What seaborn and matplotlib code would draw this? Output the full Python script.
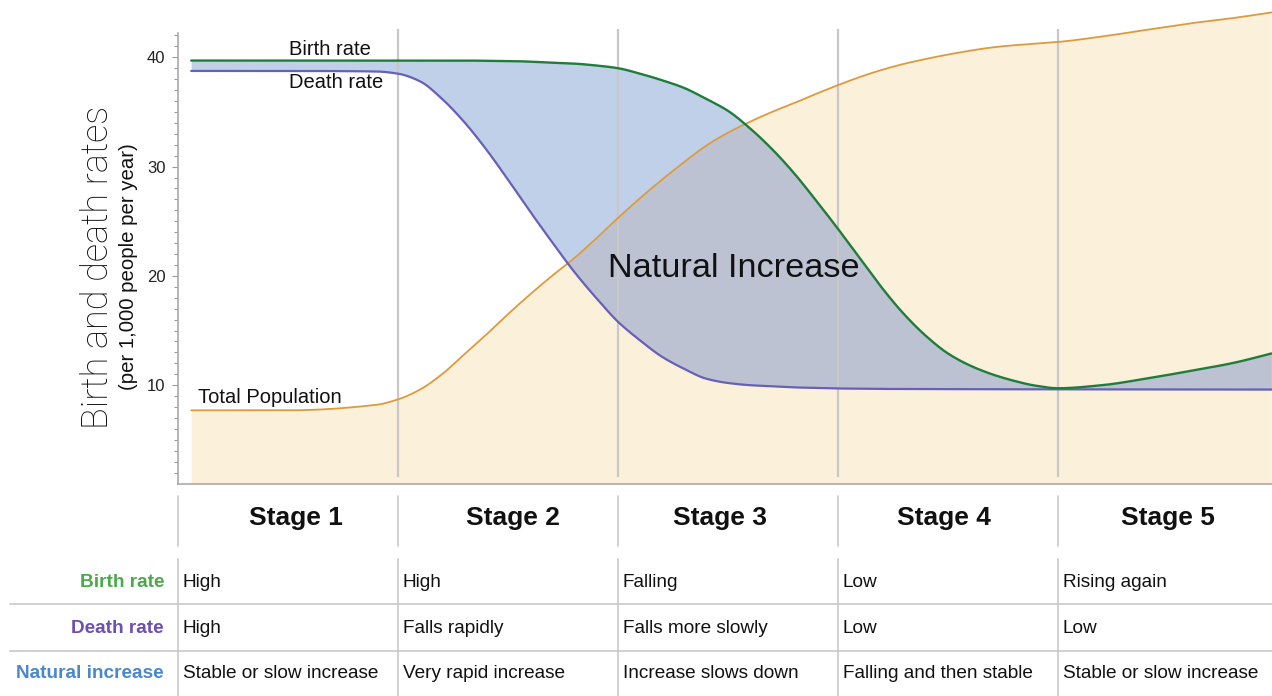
import numpy as np
import matplotlib
matplotlib.use("Agg")
import matplotlib.pyplot as plt
import seaborn as sns
import pandas as pd
from matplotlib.ticker import FixedLocator

# ---------------- data ----------------
stage_pos = [0.06, 0.5, 0.9, 1.0, 1.1, 1.2, 1.3, 1.4, 1.5, 1.6, 1.7, 1.8, 1.9,
             2.0, 2.1, 2.2, 2.3, 2.4, 2.5, 2.6, 2.7, 2.8, 2.9, 3.0, 3.1, 3.2,
             3.3, 3.4, 3.5, 3.6, 3.7, 3.8, 3.9, 4.0, 4.2, 4.4, 4.6, 4.8, 4.97]
birth_rate = [39.7, 39.7, 39.7, 39.7, 39.7, 39.7, 39.7, 39.68, 39.66, 39.6, 39.5, 39.42, 39.25,
              39.0, 38.5, 37.9, 37.2, 36.2, 35.1, 33.5, 31.6, 29.4, 26.9, 24.3, 21.6, 18.9,
              16.5, 14.5, 12.9, 11.8, 11.0, 10.4, 9.95, 9.72, 10.0, 10.6, 11.3, 12.05, 12.9]
death_rate = [38.75, 38.75, 38.7, 38.5, 37.8, 36.2, 34.1, 31.6, 28.8, 25.9, 23.1, 20.4, 18.0,
              15.8, 14.1, 12.6, 11.5, 10.6, 10.2, 10.0, 9.9, 9.8, 9.75, 9.7, 9.68, 9.66,
              9.65, 9.65, 9.64, 9.63, 9.63, 9.62, 9.62, 9.62, 9.61, 9.61, 9.6, 9.6, 9.6]
population = [7.7, 7.7, 8.2, 8.7, 9.6, 11.0, 12.8, 14.6, 16.5, 18.3, 20.0, 21.6, 23.4,
              25.3, 27.1, 28.8, 30.4, 31.9, 33.1, 34.1, 35.0, 35.8, 36.65, 37.45, 38.2, 38.85,
              39.4, 39.85, 40.25, 40.6, 40.9, 41.1, 41.25, 41.4, 41.9, 42.5, 43.1, 43.6, 44.1]

y_ticks = [10, 20, 30, 40]
stage_bounds = [1, 2, 3, 4]
stages = ["Stage 1", "Stage 2", "Stage 3", "Stage 4", "Stage 5"]
row_labels = ["Birth rate", "Death rate", "Natural increase"]
birth_desc = ["High", "High", "Falling", "Low", "Rising again"]
death_desc = ["High", "Falls rapidly", "Falls more slowly", "Low", "Low"]
increase_desc = ["Stable or slow increase", "Very rapid increase", "Increase slows down",
                 "Falling and then stable", "Stable or slow increase"]


def smooth_curve(xs, ys, n=1500):
    """Monotone cubic (Fritsch-Carlson) rendering of a curve through the points."""
    xs = np.asarray(xs, float)
    ys = np.asarray(ys, float)
    h = np.diff(xs)
    delta = np.diff(ys) / h
    m = np.zeros_like(ys)
    m[0], m[-1] = delta[0], delta[-1]
    for i in range(1, len(xs) - 1):
        if delta[i - 1] * delta[i] > 0:
            w1 = 2 * h[i] + h[i - 1]
            w2 = h[i] + 2 * h[i - 1]
            m[i] = (w1 + w2) / (w1 / delta[i - 1] + w2 / delta[i])
        else:
            m[i] = 0.0
    xn = np.linspace(xs[0], xs[-1], n)
    idx = np.clip(np.searchsorted(xs, xn) - 1, 0, len(xs) - 2)
    t = (xn - xs[idx]) / h[idx]
    h00 = 2 * t**3 - 3 * t**2 + 1
    h10 = t**3 - 2 * t**2 + t
    h01 = -2 * t**3 + 3 * t**2
    h11 = t**3 - t**2
    yn = h00 * ys[idx] + h10 * h[idx] * m[idx] + h01 * ys[idx + 1] + h11 * h[idx] * m[idx + 1]
    return xn, yn


xd, bd = smooth_curve(stage_pos, birth_rate)
_, dd = smooth_curve(stage_pos, death_rate)
_, pd_ = smooth_curve(stage_pos, population)
curves = pd.DataFrame({"stage": xd, "birth": bd, "death": dd, "population": pd_})

# ---------------- style ----------------
sns.set_theme(style="white")
plt.rcParams['font.family'] = ['Liberation Sans', 'DejaVu Sans']

C_GREEN = "#1f7d3c"
C_PURPLE = "#6660b8"
C_ORANGE = "#dd9a3c"
F_ORANGE = "#fbf0da"
F_BLUE = "#c0d0e8"
F_OVER = "#bcc2d2"
C_GRID = "#c8c8c8"

W, H = 1272, 696
fig = plt.figure(figsize=(W / 100, H / 100), dpi=100)
fig.patch.set_facecolor("white")

# overlay (pixel coordinates) for table & y-label
ov = fig.add_axes([0, 0, 1, 1], zorder=0)
ov.set_xlim(0, W)
ov.set_ylim(H, 0)
ov.axis("off")

PX_X0, PX_STAGE, PX_BOTTOM = 178, 220, 484
ax = fig.add_axes([PX_X0 / W, (H - PX_BOTTOM) / H, (W - PX_X0) / W, PX_BOTTOM / H], zorder=1)
ax.patch.set_alpha(0)
ax.set_xlim(0, (W - PX_X0) / PX_STAGE)
ax.set_ylim(0.96, 45.24)

ax.fill_between(xd, 0, pd_, color=F_ORANGE, lw=0, zorder=1)
lower = np.maximum(dd, pd_)
ax.fill_between(xd, lower, bd, where=bd > lower, color=F_BLUE, lw=0, zorder=1.5)
upper = np.minimum(bd, pd_)
ax.fill_between(xd, dd, upper, where=upper > dd, color=F_OVER, lw=0, zorder=1.5)

ax.vlines(stage_bounds, 1.6, 42.6, color=C_GRID, lw=1.6, zorder=2)

sns.lineplot(data=curves, x="stage", y="population", ax=ax, color=C_ORANGE, lw=1.3,
             estimator=None, sort=False, zorder=4)
sns.lineplot(data=curves, x="stage", y="death", ax=ax, color=C_PURPLE, lw=1.6,
             estimator=None, sort=False, zorder=5)
sns.lineplot(data=curves, x="stage", y="birth", ax=ax, color=C_GREEN, lw=1.7,
             estimator=None, sort=False, zorder=6)

ax.text(0.505, 40.2, "Birth rate", fontsize=14.5, color="#111", va="baseline", zorder=7)
ax.text(0.505, 37.16, "Death rate", fontsize=14.5, color="#111", va="baseline", zorder=7)
ax.text(0.091, 8.34, "Total Population", fontsize=14.5, color="#111", va="baseline", zorder=7)
ax.text(1.955, 19.92, "Natural Increase", fontsize=24.7, color="#111", va="baseline", zorder=7)

ax.set_xlabel("")
ax.set_ylabel("")
ax.set_xticks([])
ax.yaxis.set_major_locator(FixedLocator(y_ticks))
ax.yaxis.set_minor_locator(FixedLocator(list(range(2, 43))))
ax.tick_params(axis="y", which="both", left=True, direction="out", color="#9a9a9a",
               width=0.8, labelsize=12, labelcolor="#222", pad=5)
ax.tick_params(axis="y", which="major", length=4)
ax.tick_params(axis="y", which="minor", length=3)
for s in ["top", "right"]:
    ax.spines[s].set_visible(False)
for s in ["left", "bottom"]:
    ax.spines[s].set_color("#aaaaaa")
    ax.spines[s].set_linewidth(1.2)
ax.spines["left"].set_bounds(0.96, 42.2)

# y-axis titles
ov.text(108, 267, "Birth and death rates", rotation=90, rotation_mode="anchor",
        ha="center", va="baseline", fontsize=26, color="#111",
        family=["Roboto", "Liberation Sans", "DejaVu Sans"], fontweight="light")
ov.text(134, 267, "(per 1,000 people per year)", rotation=90, rotation_mode="anchor",
        ha="center", va="baseline", fontsize=14.7, color="#111")

# ---------------- table ----------------
fig.canvas.draw()


def px(xv):
    return ax.transData.transform((xv, 1))[0]


col_edges = [px(0)] + [px(k) for k in stage_bounds]
stage_label_x = [296, 513, 720, 944, 1168]

for e in col_edges:
    ov.plot([e, e], [496, 546], color=C_GRID, lw=1.2)
    ov.plot([e, e], [559, 696], color=C_GRID, lw=1.2)
for xs, name in zip(stage_label_x, stages):
    ov.text(xs, 525, name, ha="center", va="baseline", fontsize=19, fontweight="bold", color="#111")

for yl in [604, 651]:
    ov.plot([10, W], [yl, yl], color=C_GRID, lw=1.2)

row_colors = ["#4aaa4a", "#6c4fb2", "#4a88cc"]
row_base = [586.7, 632.7, 678.3]
rows = [birth_desc, death_desc, increase_desc]
for lab, col, yb, vals in zip(row_labels, row_colors, row_base, rows):
    ov.text(164, yb, lab, ha="right", va="baseline", fontsize=13.7, fontweight="bold", color=col)
    for e, v in zip(col_edges, vals):
        ov.text(e + 5, yb, v, ha="left", va="baseline", fontsize=13.7, color="#111")

fig.savefig("out.png", dpi=100, facecolor="white")
